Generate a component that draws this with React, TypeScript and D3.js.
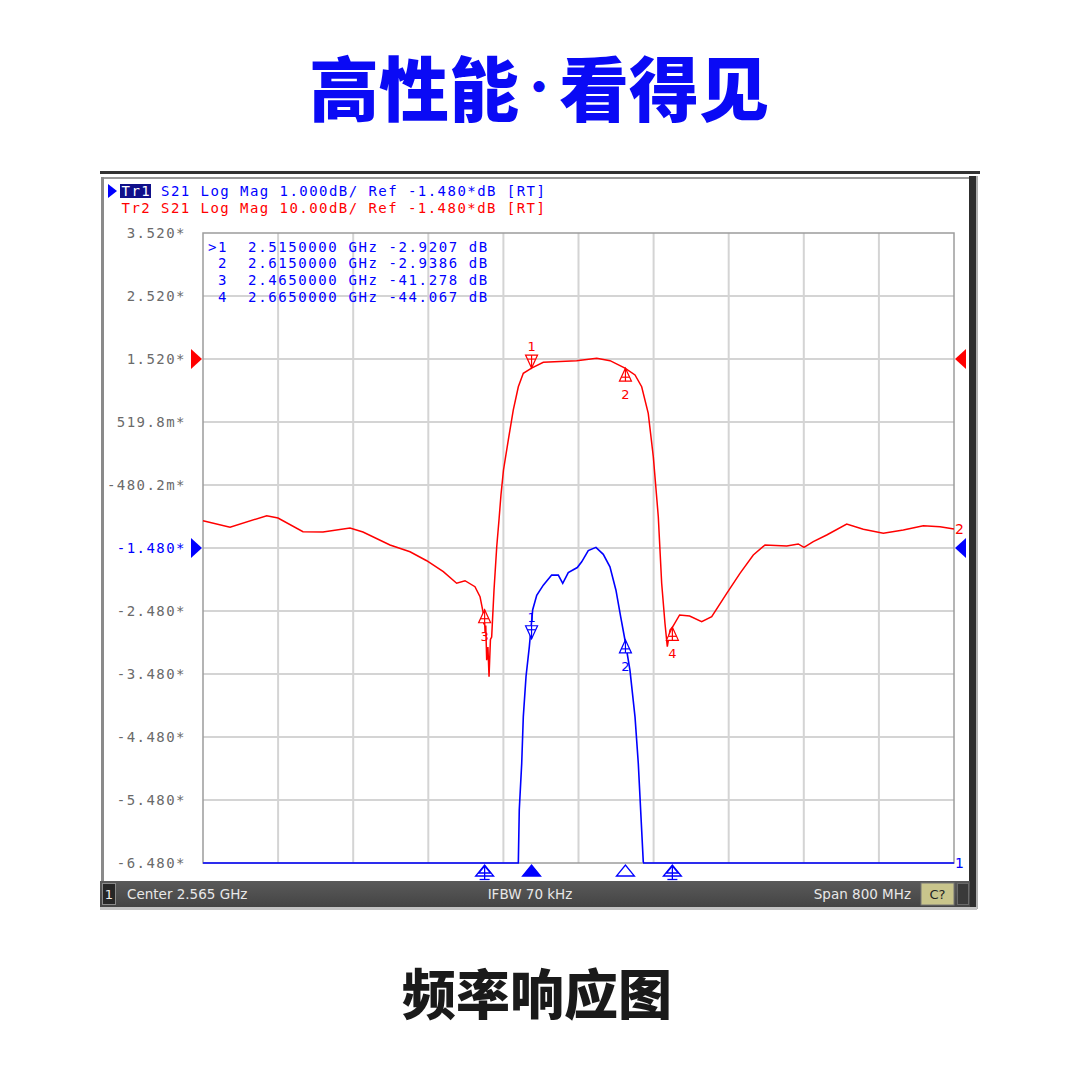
import * as d3 from "d3";
import { useEffect } from "react";

// stimulus: center 2.565 GHz, span 800 MHz
const freqStart = 2.165;
const freqStop = 2.965;

// Tr1 scale (1 dB/div) tick labels, top to bottom
const yTickLabels = [
  "3.520*",
  "2.520*",
  "1.520*",
  "519.8m*",
  "-480.2m*",
  "-1.480*",
  "-2.480*",
  "-3.480*",
  "-4.480*",
  "-5.480*",
  "-6.480*",
];

// Tr2: S21, 10 dB/div  [GHz, dB]
const tr2Points: [number, number][] = [
  [2.165, -27.15], [2.1938, -28.19], [2.2329, -26.35], [2.2449, -26.72],
  [2.2715, -28.89], [2.2928, -28.94], [2.3216, -28.31], [2.3354, -28.94],
  [2.3642, -31.0], [2.3855, -32.07], [2.4033, -33.5], [2.421, -35.24],
  [2.4352, -37.08], [2.4441, -36.67], [2.4547, -37.62], [2.4601, -39.21],
  [2.4636, -41.85], [2.4642, -43.6], [2.4648, -42.6], [2.4655, -44.9],
  [2.4662, -43.8], [2.4672, -49.3], [2.4685, -47.2], [2.4697, -51.9],
  [2.4712, -46.0], [2.4725, -45.6], [2.475, -38.15], [2.4779, -31.27],
  [2.4803, -27.04], [2.4824, -23.07], [2.4851, -19.1], [2.4902, -14.34],
  [2.4955, -9.58], [2.5009, -5.88], [2.5062, -3.75], [2.515, -2.92],
  [2.5275, -2.0], [2.5631, -1.75], [2.5844, -1.37], [2.5986, -1.75],
  [2.6145, -2.94], [2.6252, -4.02], [2.6323, -5.88], [2.6393, -10.1],
  [2.6447, -16.99], [2.65, -26.51], [2.6536, -37.08], [2.6571, -43.43],
  [2.6596, -47.15], [2.6625, -44.5], [2.665, -44.07], [2.6727, -42.11],
  [2.6834, -42.27], [2.6962, -43.18], [2.7069, -42.39], [2.7229, -38.67],
  [2.737, -35.5], [2.7512, -32.59], [2.7637, -31.0], [2.7868, -31.16],
  [2.7991, -30.84], [2.8052, -31.37], [2.8151, -30.48], [2.8294, -29.42],
  [2.8507, -27.67], [2.8684, -28.51], [2.8897, -29.15], [2.911, -28.62],
  [2.9323, -27.94], [2.9501, -28.1], [2.965, -28.46],
];

// Tr1: S21, 1 dB/div (values below -6.48 are off screen)  [GHz, dB]
const tr1Points: [number, number][] = [
  [2.165, -8], [2.5009, -8], [2.5019, -5.64], [2.5045, -4.9],
  [2.5062, -4.16], [2.5091, -3.52], [2.5126, -3.05], [2.5162, -2.46],
  [2.5205, -2.23], [2.5275, -2.07], [2.5364, -1.91], [2.5435, -1.91],
  [2.5482, -2.04], [2.5541, -1.87], [2.5637, -1.79], [2.5684, -1.7],
  [2.5754, -1.52], [2.5836, -1.47], [2.5914, -1.58], [2.5985, -1.78],
  [2.6049, -2.15], [2.6099, -2.57], [2.6145, -2.94], [2.6198, -3.42],
  [2.6252, -4.16], [2.6287, -4.9], [2.6312, -5.64], [2.634, -6.46],
  [2.6345, -8], [2.965, -8],
];

// marker table
const markerFreqs = [2.515, 2.615, 2.465, 2.665];
const markerValues = [-2.9207, -2.9386, -41.278, -44.067];
const markerRows = [
  ">1  2.5150000 GHz -2.9207 dB",
  " 2  2.6150000 GHz -2.9386 dB",
  " 3  2.4650000 GHz -41.278 dB",
  " 4  2.6650000 GHz -44.067 dB",
];
// which markers sit above the trace (pointing down)
const tr2MarkerDown = [true, false, false, false];
const tr1Markers = [0, 1];
const tr1MarkerDown = [true, false];

const RED = "#ff0000";
const BLUE = "#0000ff";
const MONO = "'DejaVu Sans Mono', monospace";
const SANS = "'DejaVu Sans', Tahoma, sans-serif";
const CJK = "'Noto Sans CJK SC', sans-serif";

const plot = { left: 203, right: 954, top: 233, bottom: 863 };

const TraceMarker = ({
  x,
  y,
  down,
  label,
  color,
}: {
  x: number;
  y: number;
  down: boolean;
  label: string;
  color: string;
}) => {
  const s = down ? -1 : 1;
  const base = y + s * 13;
  return (
    <g stroke={color} fill="none" strokeWidth={1.2}>
      <polygon points={`${x - 6},${base} ${x + 6},${base} ${x},${y}`} fill="#fff" />
      <line x1={x} x2={x} y1={y} y2={base} />
      <line x1={x - 4} x2={x + 4} y1={y + s * 9} y2={y + s * 9} />
      <text
        x={x}
        y={down ? y - 17 : y + 31}
        fill={color}
        stroke="none"
        fontFamily={SANS}
        fontSize={13}
        textAnchor="middle"
      >
        {label}
      </text>
    </g>
  );
};

export default function App() {
  useEffect(() => {
    document.body.style.margin = "0";
  }, []);

  const x = d3.scaleLinear().domain([freqStart, freqStop]).range([plot.left, plot.right]);
  const yTr1 = d3.scaleLinear().domain([-6.48, 3.52]).range([plot.bottom, plot.top]).clamp(true);
  const yTr2 = d3.scaleLinear().domain([-81.48, 18.52]).range([plot.bottom, plot.top]).clamp(true);

  const lineTr1 = d3.line<[number, number]>().x((d) => x(d[0])).y((d) => yTr1(d[1]));
  const lineTr2 = d3.line<[number, number]>().x((d) => x(d[0])).y((d) => yTr2(d[1]));

  const xGrid = d3.range(1, 10).map((i) => freqStart + (i * (freqStop - freqStart)) / 10);
  const yGridVals = yTickLabels.map((_, i) => 3.52 - i);
  const refY1 = yTr1(-1.48);
  const refY2 = yTr2(-1.48);

  const lastTr2 = tr2Points[tr2Points.length - 1];
  const lastTr1 = tr1Points[tr1Points.length - 1];

  return (
    <svg
      width={1080}
      height={1080}
      style={{ position: "absolute", left: 0, top: 0, background: "#fff" }}
    >
      {/* titles */}
      <text
        x={309}
        y={85}
        dominantBaseline="central"
        fontFamily={CJK}
        fontWeight={900}
        fontSize={70}
        fill="#0a0af5"
      >
        高性能<tspan fontSize={40}>·</tspan>
        <tspan>看得见</tspan>
      </text>
      <text
        x={537}
        y={991}
        textAnchor="middle"
        dominantBaseline="central"
        fontFamily={CJK}
        fontWeight={900}
        fontSize={54}
        fill="#1a1a1a"
      >
        频率响应图
      </text>

      {/* analyzer window frame */}
      <rect x={100} y={171} width={880} height={3} fill="#333" />
      <rect x={100} y={174} width={877} height={736} fill="#fff" />
      <rect x={101} y={177} width={3} height={705} fill="#8a8a8a" />
      <rect x={104} y={177} width={866} height={2} fill="#9a9a9a" />
      <rect x={969} y={176} width={7} height={733} fill="#2e2e2e" />
      <rect x={976} y={176} width={2} height={733} fill="#b0b0b0" />

      {/* grid */}
      <g stroke="#d4d4d4" strokeWidth={2}>
        {xGrid.map((f, i) => (
          <line key={i} x1={x(f)} x2={x(f)} y1={plot.top} y2={plot.bottom} />
        ))}
        {yGridVals.slice(1, -1).map((v, i) => (
          <line key={i} x1={plot.left} x2={plot.right} y1={yTr1(v)} y2={yTr1(v)} />
        ))}
      </g>
      <rect
        x={plot.left}
        y={plot.top}
        width={plot.right - plot.left}
        height={plot.bottom - plot.top}
        fill="none"
        stroke="#9c9c9c"
        strokeWidth={1.5}
      />

      {/* y tick labels */}
      {yTickLabels.map((t, i) => (
        <text
          key={t}
          x={186}
          y={yTr1(yGridVals[i])}
          dominantBaseline="central"
          textAnchor="end"
          fontFamily={MONO}
          fontSize={14}
          letterSpacing={1.45}
          fill={t === "-1.480*" ? BLUE : "#6a6a6a"}
        >
          {t}
        </text>
      ))}

      {/* trace headers */}
      <polygon points="108,184 117,191 108,198" fill={BLUE} />
      <rect x={120} y={184} width={31} height={14} fill="#10108a" />
      <text x={121.5} y={196} fontFamily={MONO} fontSize={14} letterSpacing={1.45} style={{ whiteSpace: "pre" }}>
        <tspan fill="#fff">Tr1</tspan>
        <tspan fill={BLUE}> S21 Log Mag 1.000dB/ Ref -1.480*dB [RT]</tspan>
      </text>
      <text
        x={121.5}
        y={213}
        fontFamily={MONO}
        fontSize={14}
        letterSpacing={1.45}
        fill={RED}
        style={{ whiteSpace: "pre" }}
      >
        Tr2 S21 Log Mag 10.00dB/ Ref -1.480*dB [RT]
      </text>

      {/* marker table */}
      {markerRows.map((r, i) => (
        <text
          key={i}
          x={208}
          y={251.5 + i * 16.7}
          fontFamily={MONO}
          fontSize={14}
          letterSpacing={1.6}
          fill={BLUE}
          style={{ whiteSpace: "pre" }}
        >
          {r}
        </text>
      ))}

      {/* traces */}
      <path d={lineTr2(tr2Points) ?? ""} fill="none" stroke={RED} strokeWidth={1.5} />
      <path d={lineTr1(tr1Points) ?? ""} fill="none" stroke={BLUE} strokeWidth={1.6} />

      {/* trace markers */}
      {markerFreqs.map((f, i) => (
        <TraceMarker
          key={"r" + i}
          x={x(f)}
          y={yTr2(markerValues[i])}
          down={tr2MarkerDown[i]}
          label={String(i + 1)}
          color={RED}
        />
      ))}
      {tr1Markers.map((m, i) => (
        <TraceMarker
          key={"b" + i}
          x={x(markerFreqs[m])}
          y={yTr1(markerValues[m])}
          down={tr1MarkerDown[i]}
          label={String(m + 1)}
          color={BLUE}
        />
      ))}

      {/* stimulus markers under the grid */}
      {markerFreqs.map((f, i) => {
        const cx = x(f);
        const active = i === 0;
        const both = i >= 2;
        return (
          <g key={"s" + i} stroke={BLUE} strokeWidth={1.3} fill={active ? BLUE : "#fff"}>
            <polygon points={`${cx - 9},${876} ${cx + 9},${876} ${cx},${865}`} />
            {both && (
              <>
                <polygon points={`${cx - 6},${873} ${cx + 6},${873} ${cx},${866}`} fill="none" />
                <line x1={cx} x2={cx} y1={866} y2={880} />
                <line x1={cx - 5} x2={cx + 5} y1={879.5} y2={879.5} />
              </>
            )}
          </g>
        );
      })}

      {/* reference level arrows */}
      <polygon points={`191,${refY2 - 10} 202,${refY2} 191,${refY2 + 10}`} fill={RED} />
      <polygon points={`191,${refY1 - 10} 202,${refY1} 191,${refY1 + 10}`} fill={BLUE} />
      <polygon points={`966,${refY2 - 10} 955,${refY2} 966,${refY2 + 10}`} fill={RED} />
      <polygon points={`966,${refY1 - 10} 955,${refY1} 966,${refY1 + 10}`} fill={BLUE} />

      {/* trace end labels */}
      <text x={955} y={yTr2(lastTr2[1])} dominantBaseline="central" fontFamily={SANS} fontSize={14} fill={RED}>
        2
      </text>
      <text x={955} y={yTr1(lastTr1[1])} dominantBaseline="central" fontFamily={SANS} fontSize={14} fill={BLUE}>
        1
      </text>

      {/* status bar */}
      <defs>
        <linearGradient id="bar" x1="0" x2="0" y1="0" y2="1">
          <stop offset="0" stopColor="#5a5a5a" />
          <stop offset="1" stopColor="#444" />
        </linearGradient>
      </defs>
      <rect x={100} y={881} width={870} height={26} fill="url(#bar)" />
      <rect x={100} y={907} width={877} height={3} fill="#c4c4c4" />
      <rect x={102.5} y={883.5} width={13} height={21} fill="#262626" stroke="#8a8a8a" />
      <text x={109} y={899} textAnchor="middle" fontFamily={SANS} fontSize={13} fill="#eee">
        1
      </text>
      <text x={127} y={899} fontFamily={SANS} fontSize={13.5} fill="#e8e8e8">
        Center 2.565 GHz
      </text>
      <text x={530} y={899} textAnchor="middle" fontFamily={SANS} fontSize={13.5} fill="#e8e8e8">
        IFBW 70 kHz
      </text>
      <text x={911} y={899} textAnchor="end" fontFamily={SANS} fontSize={13.5} fill="#e8e8e8">
        Span 800 MHz
      </text>
      <rect x={921} y={883} width={33} height={22} fill="#c9c58c" stroke="#777" />
      <text x={937.5} y={899} textAnchor="middle" fontFamily={SANS} fontSize={13} fill="#222">
        C?
      </text>
      <rect x={957.5} y={883.5} width={11} height={21} fill="#3a3a3a" stroke="#6a6a6a" />
    </svg>
  );
}
